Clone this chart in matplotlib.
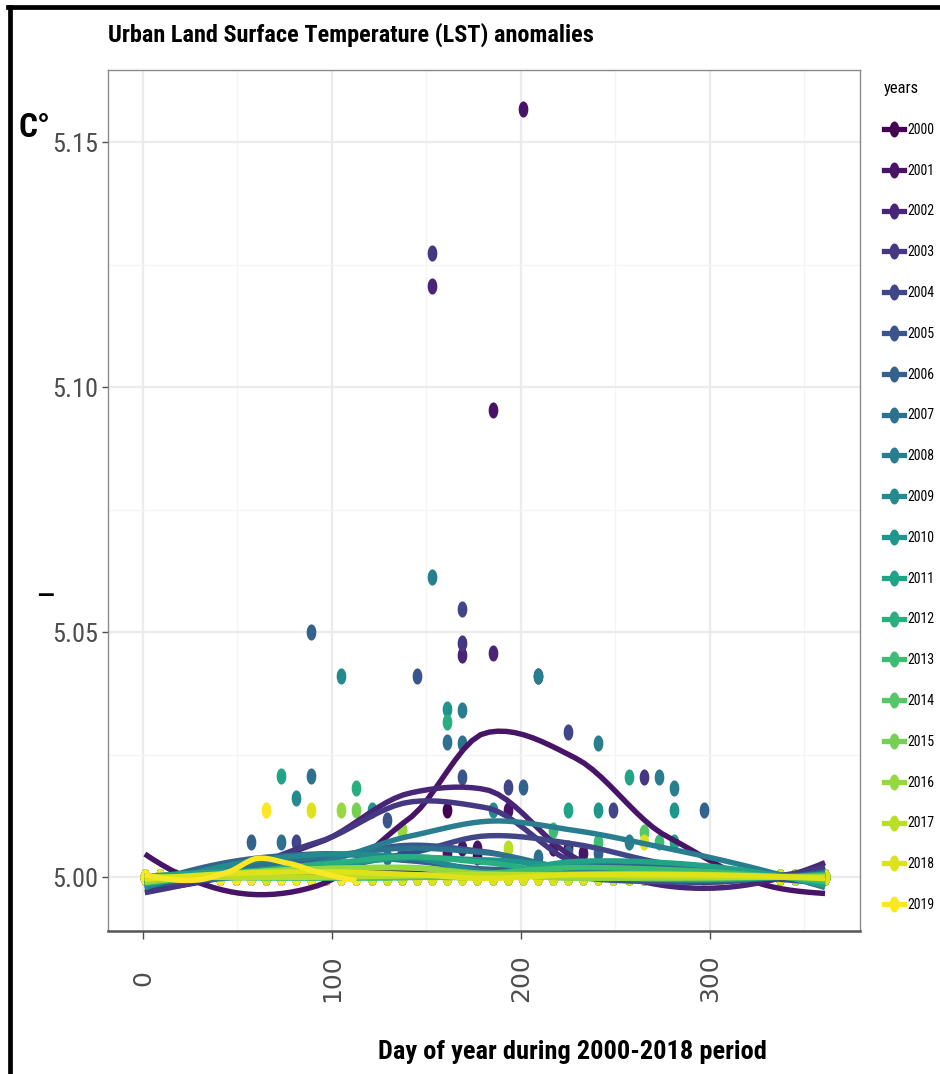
import numpy as np
import matplotlib
matplotlib.use("Agg")
import matplotlib.pyplot as plt
from matplotlib.path import Path
from matplotlib.lines import Line2D

# 8-day composites, day of year
doy = [1, 9, 17, 25, 33, 41, 49, 57, 65, 73, 81, 89, 97, 105, 113, 121,
       129, 137, 145, 153, 161, 169, 177, 185, 193, 201, 209, 217, 225,
       233, 241, 249, 257, 265, 273, 281, 289, 297, 305, 313, 321, 329,
       337, 345, 353, 361]
doy_2019 = doy[:15]          # 2019 only goes to mid April
baseline = 5.0

years = list(range(2000, 2020))

# anomalies above the baseline, {day: value}
lst_2000 = {161: 5.0137, 177: 5.004}
lst_2001 = {161: 5.005, 169: 5.006, 177: 5.006, 185: 5.0953, 193: 5.0137,
            201: 5.1567, 209: 5.0411, 217: 5.006, 225: 5.006, 233: 5.005}
lst_2002 = {153: 5.1206, 169: 5.0453, 185: 5.0457}
lst_2003 = {153: 5.1273, 169: 5.0478, 265: 5.0205}
lst_2004 = {81: 5.0072, 169: 5.0547, 193: 5.0184, 225: 5.0296, 249: 5.0137}
lst_2005 = {129: 5.0116, 145: 5.0411, 169: 5.0204}
lst_2006 = {57: 5.0072, 89: 5.0501, 121: 5.005, 137: 5.005, 201: 5.0184,
            225: 5.005, 241: 5.005, 297: 5.0137}
lst_2007 = {73: 5.0072, 89: 5.0206, 129: 5.004, 161: 5.0276, 169: 5.0274,
            209: 5.004}
lst_2008 = {153: 5.0612, 169: 5.0340, 209: 5.0411, 241: 5.0273, 257: 5.0072,
            273: 5.0205, 281: 5.0182}
lst_2009 = {81: 5.0161, 105: 5.0411, 185: 5.0137}
lst_2010 = {121: 5.0137, 161: 5.0344, 241: 5.0137, 281: 5.0137}
lst_2011 = {73: 5.0206, 225: 5.0137, 257: 5.0205, 281: 5.0072}
lst_2012 = {113: 5.0182, 161: 5.0317}
lst_2013 = {217: 5.0096, 241: 5.0072, 273: 5.0072}
lst_2014 = {265: 5.0093}
lst_2015 = {113: 5.0137, 137: 5.0096}
lst_2016 = {105: 5.0137, 137: 5.0096}
lst_2017 = {193: 5.0060}
lst_2018 = {89: 5.0137, 265: 5.0072}
lst_2019 = {65: 5.0137}

anomalies = [lst_2000, lst_2001, lst_2002, lst_2003, lst_2004, lst_2005,
             lst_2006, lst_2007, lst_2008, lst_2009, lst_2010, lst_2011,
             lst_2012, lst_2013, lst_2014, lst_2015, lst_2016, lst_2017,
             lst_2018, lst_2019]

x_ticks = [0, 100, 200, 300]
y_ticks = [5.00, 5.05, 5.10, 5.15]
y_labels = ["5.00", "5.05", "5.10", "5.15"]


def local_fit(x, y, x0, q):
    # local quadratic with tricube weights, returns value and slope at x0
    d = np.abs(x - x0)
    ds = np.sort(d)
    h = (ds[q - 1] + ds[q]) / 2 if q < len(x) else ds[-1] * 1.0001
    w = np.clip(1 - (d / h) ** 3, 0, 1) ** 3
    A = np.vstack([np.ones_like(x), x - x0, (x - x0) ** 2]).T
    sw = np.sqrt(w)
    coef = np.linalg.lstsq(A * sw[:, None], y * sw, rcond=None)[0]
    return coef[0], coef[1]


def kd_vertices(xsorted, fc):
    verts = []

    def split(pts):
        if len(pts) <= fc:
            return
        m = (len(pts) + 1) // 2
        verts.append((pts[m - 1] + pts[m]) / 2)
        split(pts[:m])
        split(pts[m:])

    split(list(xsorted))
    return verts


def loess(x, y, xs, span=0.75):
    # like R loess(surface = "interpolate"): fit at kd-tree vertices,
    # cubic hermite in between
    x = np.asarray(x, float)
    y = np.asarray(y, float)
    n = len(x)
    q = int(np.floor(n * span))
    fc = int(np.floor(n * span * 0.2))
    lo, hi = x.min(), x.max()
    mu = 0.005 * (hi - lo)
    v = np.array(sorted([lo - mu, hi + mu] + kd_vertices(np.sort(x), fc)))
    fv = np.array([local_fit(x, y, vv, q) for vv in v])
    out = []
    for x0 in xs:
        i = min(np.searchsorted(v, x0) - 1, len(v) - 2)
        i = max(i, 0)
        hh = v[i + 1] - v[i]
        t = (x0 - v[i]) / hh
        h00 = 2 * t**3 - 3 * t**2 + 1
        h10 = t**3 - 2 * t**2 + t
        h01 = -2 * t**3 + 3 * t**2
        h11 = t**3 - t**2
        out.append(h00 * fv[i, 0] + h10 * hh * fv[i, 1]
                   + h01 * fv[i + 1, 0] + h11 * hh * fv[i + 1, 1])
    return np.array(out)


plt.rcParams["font.family"] = ["Roboto Condensed", "Archivo Narrow", "DejaVu Sans"]

colors = plt.cm.viridis(np.linspace(0, 1, len(years)))

# tall oval dots
t = np.linspace(0, 2 * np.pi, 40)
oval = Path(np.column_stack([0.6 * np.cos(t), np.sin(t)]), closed=True)

fig = plt.figure(figsize=(9.4, 10.74), dpi=100)
ax = fig.add_axes([108 / 940, 1 - 931 / 1074, 752 / 940, 861 / 1074])

series = []
for yr, anom in zip(years, anomalies):
    days = doy_2019 if yr == 2019 else doy
    vals = [anom.get(d, baseline) for d in days]
    series.append((days, vals))

for (days, vals), c in zip(series, colors):
    ax.scatter(days, vals, s=135, marker=oval, color=c, linewidths=0, zorder=2)

for (days, vals), c in zip(series, colors):
    xs = np.linspace(days[0], days[-1], 80)
    ax.plot(xs, loess(days, vals, xs), color=c, lw=3.9, zorder=3,
            solid_capstyle="butt")

ax.set_xlim(-18.5, 379.5)
ax.set_ylim(4.989, 5.1647)
ax.set_xticks(x_ticks)
ax.set_xticks([50, 150, 250, 350], minor=True)
ax.set_yticks(y_ticks)
ax.set_yticks([5.025, 5.075, 5.125], minor=True)
ax.set_yticklabels(y_labels, fontsize=19, color="#4d4d4d")
ax.set_xticklabels([str(v) for v in x_ticks], rotation=90, fontsize=18,
                   color="#4d4d4d", family="DejaVu Sans", va="center")
ax.tick_params(axis="y", which="major", length=4, width=1, color="#4d4d4d", pad=3)
ax.tick_params(axis="x", which="major", length=6, width=1, color="#4d4d4d", pad=28)
ax.tick_params(which="minor", length=0)
ax.grid(which="major", color="#ebebeb", lw=1.6, zorder=0)
ax.grid(which="minor", color="#f4f4f4", lw=0.9, zorder=0)
ax.set_axisbelow(True)
for side in ["top", "right", "left"]:
    ax.spines[side].set_color("#8a8a8a")
    ax.spines[side].set_linewidth(1.0)
ax.spines["bottom"].set_color("#555555")
ax.spines["bottom"].set_linewidth(1.8)

fig.text(108 / 940, 1 - 35 / 1074, "Urban Land Surface Temperature (LST) anomalies",
         fontsize=17.5, fontweight="bold", ha="left", va="center")
fig.text(18 / 940, 1 - 128 / 1074, "C°", fontsize=24, fontweight="bold",
         ha="left", va="center")
fig.text(46 / 940, 1 - 598 / 1074, "–", fontsize=26, ha="center", va="center")
fig.text(572 / 940, 1 - 1052 / 1074, "Day of year during 2000-2018 period",
         fontsize=19, fontweight="bold", ha="center", va="center")

handles = [Line2D([], [], color=c, lw=3.8, marker=oval, markersize=11.5,
                  markeredgewidth=0) for c in colors]
leg = fig.legend(handles, [str(y) for y in years], title="years",
                 loc="upper left", bbox_to_anchor=(884 / 940, 1 - 81 / 1074),
                 frameon=False, fontsize=10, title_fontsize=12,
                 handlelength=1.45, labelspacing=1.93, handletextpad=0.25,
                 borderaxespad=0, borderpad=0)
leg._legend_box.align = "left"

# black frame on the left and top
fig.add_artist(Line2D([10 / 940, 10 / 940], [0, 1 - 7 / 1074], color="black", lw=3.4))
fig.add_artist(Line2D([8.3 / 940, 1], [1 - 7 / 1074, 1 - 7 / 1074], color="black", lw=3.4))

fig.savefig("out.png", dpi=100)
